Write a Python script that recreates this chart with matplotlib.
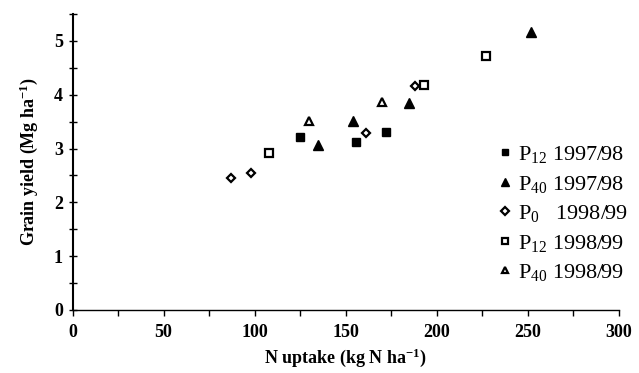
import matplotlib
matplotlib.use("Agg")
import matplotlib.pyplot as plt

plt.rcParams['font.family'] = ['Liberation Serif', 'DejaVu Serif']
plt.rcParams['mathtext.fontset'] = 'custom'
plt.rcParams['mathtext.rm'] = 'Liberation Serif'
plt.rcParams['mathtext.it'] = 'Liberation Serif:italic'
plt.rcParams['mathtext.bf'] = 'Liberation Serif:bold'

# P12 1997/98 (filled squares)
p12_9798_x = [125, 156, 172]
p12_9798_y = [3.22, 3.13, 3.30]
# P40 1997/98 (filled triangles)
p40_9798_x = [135, 154, 185, 252]
p40_9798_y = [3.06, 3.51, 3.85, 5.17]
# P0 1998/99 (open diamonds)
p0_9899_x = [87, 98, 161, 188]
p0_9899_y = [2.45, 2.54, 3.28, 4.16]
# P12 1998/99 (open squares)
p12_9899_x = [108, 193, 227]
p12_9899_y = [2.92, 4.18, 4.72]
# P40 1998/99 (open triangles)
p40_9899_x = [130, 170]
p40_9899_y = [3.51, 3.87]

fig = plt.figure(figsize=(6.39, 3.73), dpi=100)
ax = fig.add_axes([0.1136, 0.169, 0.8544, 0.7935])

ax.plot(p12_9798_x, p12_9798_y, ls='none', marker='s', ms=6, color='black',
        label=r"P$_{12}$ 1997/98")
ax.plot(p40_9798_x, p40_9798_y, ls='none', marker='^', ms=6.5, color='black',
        label=r"P$_{40}$ 1997/98")
ax.plot(p0_9899_x, p0_9899_y, ls='none', marker='D', ms=4.5, mfc='white',
        mec='black', mew=1.6, label=r"P$_0$   1998/99")
ax.plot(p12_9899_x, p12_9899_y, ls='none', marker='s', ms=5.5, mfc='white',
        mec='black', mew=1.6, label=r"P$_{12}$ 1998/99")
ax.plot(p40_9899_x, p40_9899_y, ls='none', marker='^', ms=6, mfc='white',
        mec='black', mew=1.6, label=r"P$_{40}$ 1998/99")

ax.set_xlim(0, 300)
ax.set_ylim(0, 5.5)
ax.set_xticks(range(0, 301, 50))
ax.set_xticks(range(0, 301, 25), minor=True)
ax.set_yticks(range(0, 6))
ax.set_yticks([i * 0.5 for i in range(12)], minor=True)

for s in ['top', 'right']:
    ax.spines[s].set_visible(False)
ax.spines['left'].set_linewidth(1.5)
ax.spines['bottom'].set_linewidth(1.0)

ax.tick_params(axis='x', which='both', direction='out', length=4, width=1,
               labelsize=13, pad=6)
ax.tick_params(axis='y', which='both', direction='inout', length=6, width=1,
               labelsize=13, pad=4)
for lab in ax.get_xticklabels() + ax.get_yticklabels():
    lab.set_fontweight('bold')

ax.set_xlabel(r"N uptake (kg N ha$^{\mathbf{-1}}$)", fontsize=13,
              fontweight='bold', labelpad=4)
ax.set_ylabel(r"Grain yield (Mg ha$^{\mathbf{-1}}$)", fontsize=13,
              fontweight='bold', labelpad=10)

ax.legend(loc='upper left', bbox_to_anchor=(0.78, 0.56), frameon=False,
          fontsize=16, handlelength=0.6, handletextpad=0.3, labelspacing=0.38,
          borderaxespad=0, borderpad=0, markerscale=0.8)

fig.savefig("out.png", dpi=100)
